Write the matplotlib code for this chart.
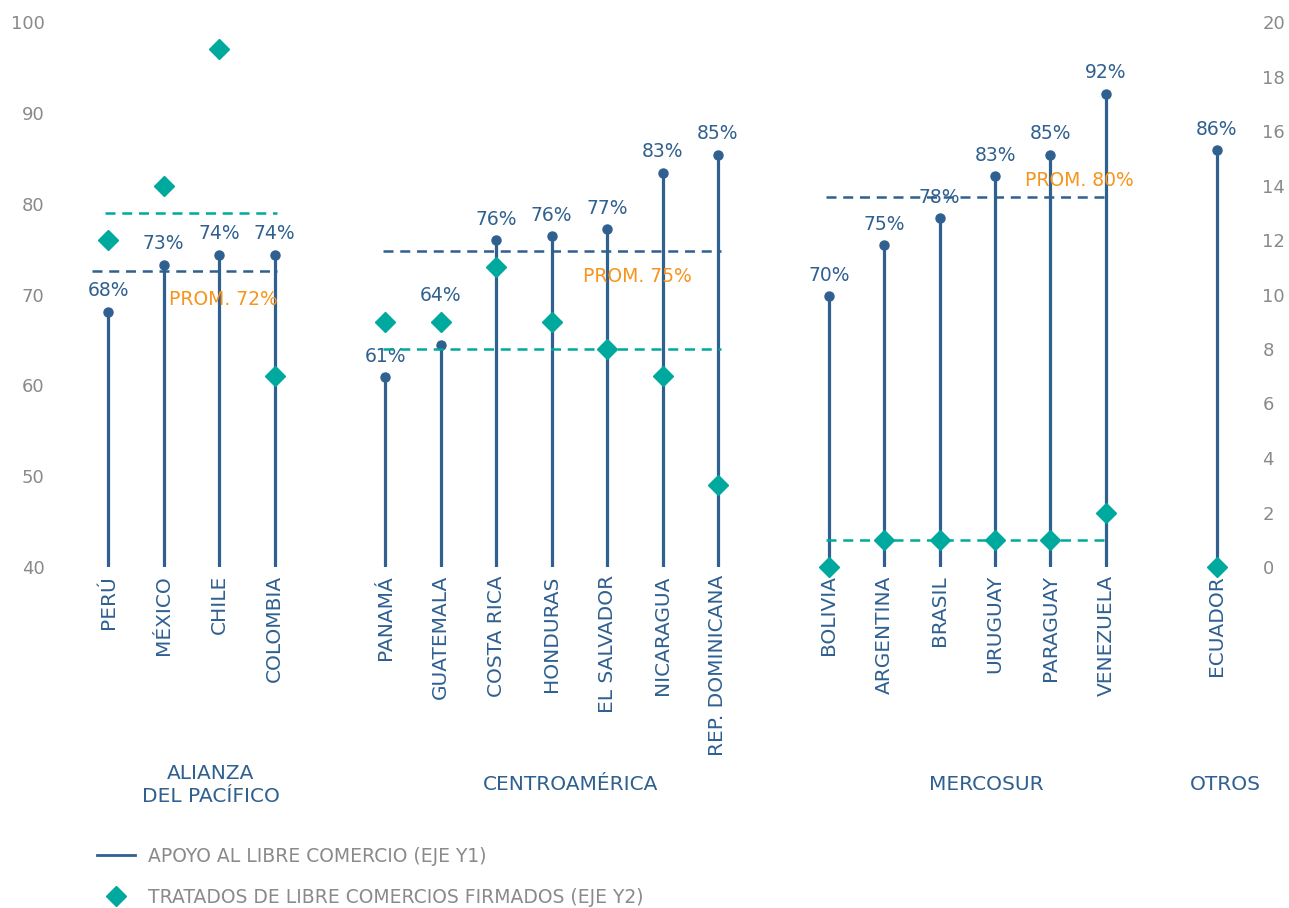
import matplotlib.pyplot as plt
from matplotlib.lines import Line2D
from matplotlib.transforms import blended_transform_factory

plt.rcParams['font.family'] = ['DejaVu Sans']

# datos
countries = ["PERÚ", "MÉXICO", "CHILE", "COLOMBIA",
             "PANAMÁ", "GUATEMALA", "COSTA RICA", "HONDURAS", "EL SALVADOR", "NICARAGUA", "REP. DOMINICANA",
             "BOLIVIA", "ARGENTINA", "BRASIL", "URUGUAY", "PARAGUAY", "VENEZUELA",
             "ECUADOR"]
support = [68.1, 73.3, 74.4, 74.4,
           60.9, 64.4, 76.0, 76.4, 77.2, 83.4, 85.4,
           69.8, 75.4, 78.4, 83.0, 85.4, 92.1,
           85.9]
treaties = [12, 14, 19, 7,
            9, 9, 11, 9, 8, 7, 3,
            0, 1, 1, 1, 1, 2,
            0]
groups = ["ALIANZA\nDEL PACÍFICO", "CENTROAMÉRICA", "MERCOSUR", "OTROS"]
group_sizes = [4, 7, 6, 1]
avg_labels = ["PROM. 72%", "PROM. 75%", "PROM. 80%"]

BLUE = "#2f6090"
TEAL = "#00a99d"
ORANGE = "#f7941d"
GRAY = "#8a8a8a"

# posiciones con hueco entre grupos
xpos = []
group_idx = []   # (primer índice, último índice) en las listas
x = 0
i0 = 0
for n in group_sizes:
    group_idx.append((i0, i0 + n - 1))
    xpos.extend(range(x, x + n))
    x += n + 1
    i0 += n

fig = plt.figure(figsize=(12.89, 9.08), dpi=100)
ax = fig.add_axes([75 / 1289, 1 - 567 / 908, 1175 / 1289, 545 / 908])
ax2 = ax.twinx()

ax.set_xlim(-0.6, 20.6)
ax.set_ylim(40, 100)
ax2.set_ylim(0, 20)
ax.set_yticks(range(40, 101, 10))
ax2.set_yticks(range(0, 21, 2))
ax.set_xticks([])
for a in (ax, ax2):
    for s in a.spines.values():
        s.set_visible(False)
ax.tick_params(axis='y', length=0, pad=22, labelsize=13, labelcolor=GRAY)
ax2.tick_params(axis='y', length=0, pad=9, labelsize=13, labelcolor=GRAY)

# tallos
ax.vlines(xpos, 40, support, color=BLUE, lw=2.3, zorder=2)
ax.plot(xpos, support, 'o', color=BLUE, ms=6.5, zorder=3)
for xi, v, c in zip(xpos, support, countries):
    dy = 36 if c == "GUATEMALA" else 15   # evita el rombo
    ax.annotate(f"{round(v)}%", (xi, v), xytext=(0, dy), textcoords='offset points',
                ha='center', va='center', fontsize=13.5, color=BLUE)

# promedios
for k, (a, b) in enumerate(group_idx[:3]):
    m1 = sum(support[a:b + 1]) / (b - a + 1)
    m2 = sum(treaties[a:b + 1]) / (b - a + 1)
    xa, xb = xpos[a], xpos[b]
    left = xa - 0.3 if k == 0 else xa - 0.05
    ax.hlines(m1, left, xb + 0.05, color=BLUE, lw=1.8, linestyles=(0, (4, 2.7)), zorder=4)
    ax2.hlines(m2, xa - 0.05, xb + 0.05, color=TEAL, lw=1.8, linestyles=(0, (4, 2.7)), zorder=2)

ax.text(3.05, 69.5, avg_labels[0], ha='right', va='center', fontsize=13.5, color=ORANGE)
ax.text(10.52, 72.0, avg_labels[1], ha='right', va='center', fontsize=13.5, color=ORANGE)
ax.text(18.5, 82.5, avg_labels[2], ha='right', va='center', fontsize=13.5, color=ORANGE)

ax2.plot(xpos, treaties, 'D', color=TEAL, ms=10.5, zorder=5, clip_on=False)

# etiquetas de países y grupos
trans = blended_transform_factory(ax.transData, ax.transAxes)
for xi, c in zip(xpos, countries):
    ax.text(xi, -0.015, c, transform=trans, rotation=90, ha='center', va='top',
            fontsize=14.5, color=BLUE)
label_shift = [0.35, 0.35, 0.35, 0.15]
for (a, b), g, sh in zip(group_idx, groups, label_shift):
    ax.text((xpos[a] + xpos[b]) / 2 + sh, -0.40, g, transform=trans, ha='center', va='center',
            fontsize=14.5, color=BLUE, linespacing=1.3)

# leyenda
handles = [Line2D([], [], color=BLUE, lw=2),
           Line2D([], [], marker='D', ls='', color=TEAL, ms=10)]
fig.legend(handles, ["APOYO AL LIBRE COMERCIO (EJE Y1)",
                     "TRATADOS DE LIBRE COMERCIOS FIRMADOS (EJE Y2)"],
           loc='upper left', bbox_to_anchor=(97 / 1289, 1 - 847 / 908), frameon=False,
           fontsize=13.5, labelcolor=GRAY, handlelength=2.0, handletextpad=0.7,
           labelspacing=1.15, borderpad=0, borderaxespad=0)

fig.savefig("out.png", dpi=100)
